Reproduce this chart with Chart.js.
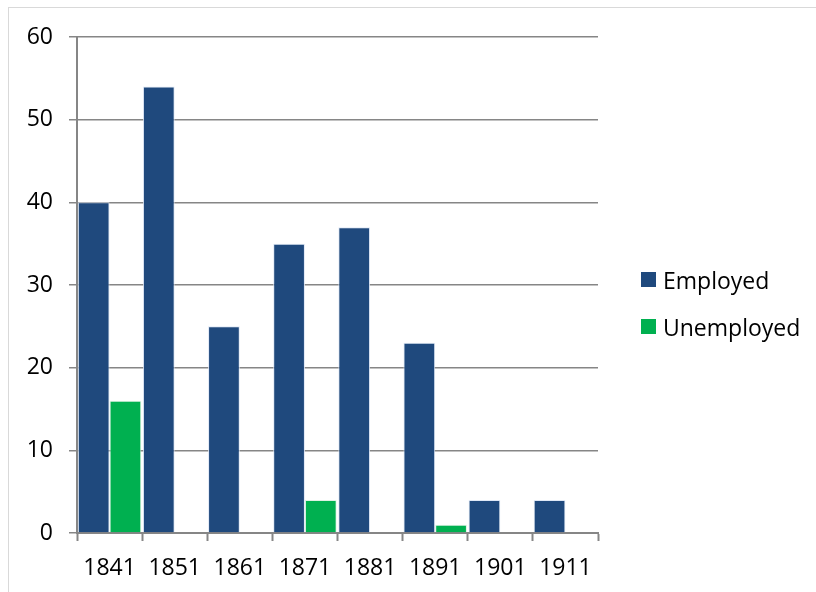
<!DOCTYPE html>
<html>
<head>
<meta charset="utf-8">
<script src="https://cdn.jsdelivr.net/npm/chart.js@4/dist/chart.umd.min.js"></script>
<style>
    html, body { margin: 0; padding: 0; background: #fff; }
    #frame {
        position: absolute; left: 8px; top: 7px;
        width: 820px; height: 600px;
        border: 1px solid #d9d9d9;
    }
    #wrap { position: absolute; left: 0; top: 0; width: 816px; height: 592px; }
</style>
</head>
<body>
<div id="frame"></div>
<div id="wrap"><canvas id="chart"></canvas></div>
<script>
// Dados do gráfico
const years = ['1841', '1851', '1861', '1871', '1881', '1891', '1901', '1911'];
const employed = [40, 54, 25, 35, 37, 23, 4, 4];
const unemployed = [16, 0, 0, 4, 0, 1, 0, 0];
const yTicks = [0, 10, 20, 30, 40, 50, 60];

const FONT = 'Open Sans';
const AXIS_GRAY = '#868686';

// Legenda desenhada à direita do gráfico
const sideLegend = {
    id: 'sideLegend',
    afterDraw(chart) {
        const ctx = chart.ctx;
        const rows = [289, 336];
        ctx.save();
        ctx.font = '23px "' + FONT + '"';
        ctx.textBaseline = 'alphabetic';
        ctx.textAlign = 'left';
        chart.data.datasets.forEach((ds, i) => {
            ctx.fillStyle = ds.backgroundColor;
            ctx.fillRect(641, rows[i] - 17, 15, 15);
            ctx.fillStyle = '#000';
            ctx.fillText(ds.label, 663, rows[i]);
        });
        ctx.restore();
    }
};

new Chart(document.getElementById('chart'), {
    type: 'bar',
    data: {
        labels: years,
        datasets: [
            {
                label: 'Employed',
                data: employed,
                backgroundColor: '#1f497d',
                borderColor: 'rgba(220,230,245,0.9)',
                borderWidth: 1,
                borderSkipped: 'bottom'
            },
            {
                label: 'Unemployed',
                data: unemployed,
                backgroundColor: '#00b050',
                borderColor: 'rgba(220,240,225,0.9)',
                borderWidth: 1,
                borderSkipped: 'bottom'
            }
        ]
    },
    options: {
        responsive: true,
        maintainAspectRatio: false,
        animation: false,
        layout: {
            padding: { left: 0, top: 37, right: 218, bottom: 0 }
        },
        datasets: {
            bar: { categoryPercentage: 0.975, barPercentage: 1 }
        },
        plugins: {
            legend: { display: false },
            tooltip: { enabled: false }
        },
        scales: {
            x: {
                offset: true,
                grid: {
                    display: true,
                    drawOnChartArea: false,
                    offset: true,
                    tickLength: 8,
                    tickColor: AXIS_GRAY,
                    tickWidth: 2
                },
                border: { color: AXIS_GRAY, width: 2 },
                ticks: {
                    color: '#000',
                    font: { family: FONT, size: 23 },
                    padding: 14,
                    maxRotation: 0
                },
                afterFit(scale) { scale.height = 592 - 533; }
            },
            y: {
                min: 0,
                max: 60,
                afterBuildTicks(scale) {
                    scale.ticks = yTicks.map(v => ({ value: v }));
                },
                grid: {
                    color: AXIS_GRAY,
                    lineWidth: 1.5,
                    tickLength: 8,
                    tickColor: AXIS_GRAY
                },
                border: { color: AXIS_GRAY, width: 2 },
                ticks: {
                    color: '#000',
                    font: { family: FONT, size: 23 },
                    padding: 16
                },
                afterFit(scale) { scale.width = 77; }
            }
        }
    },
    plugins: [sideLegend]
});
</script>
</body>
</html>
